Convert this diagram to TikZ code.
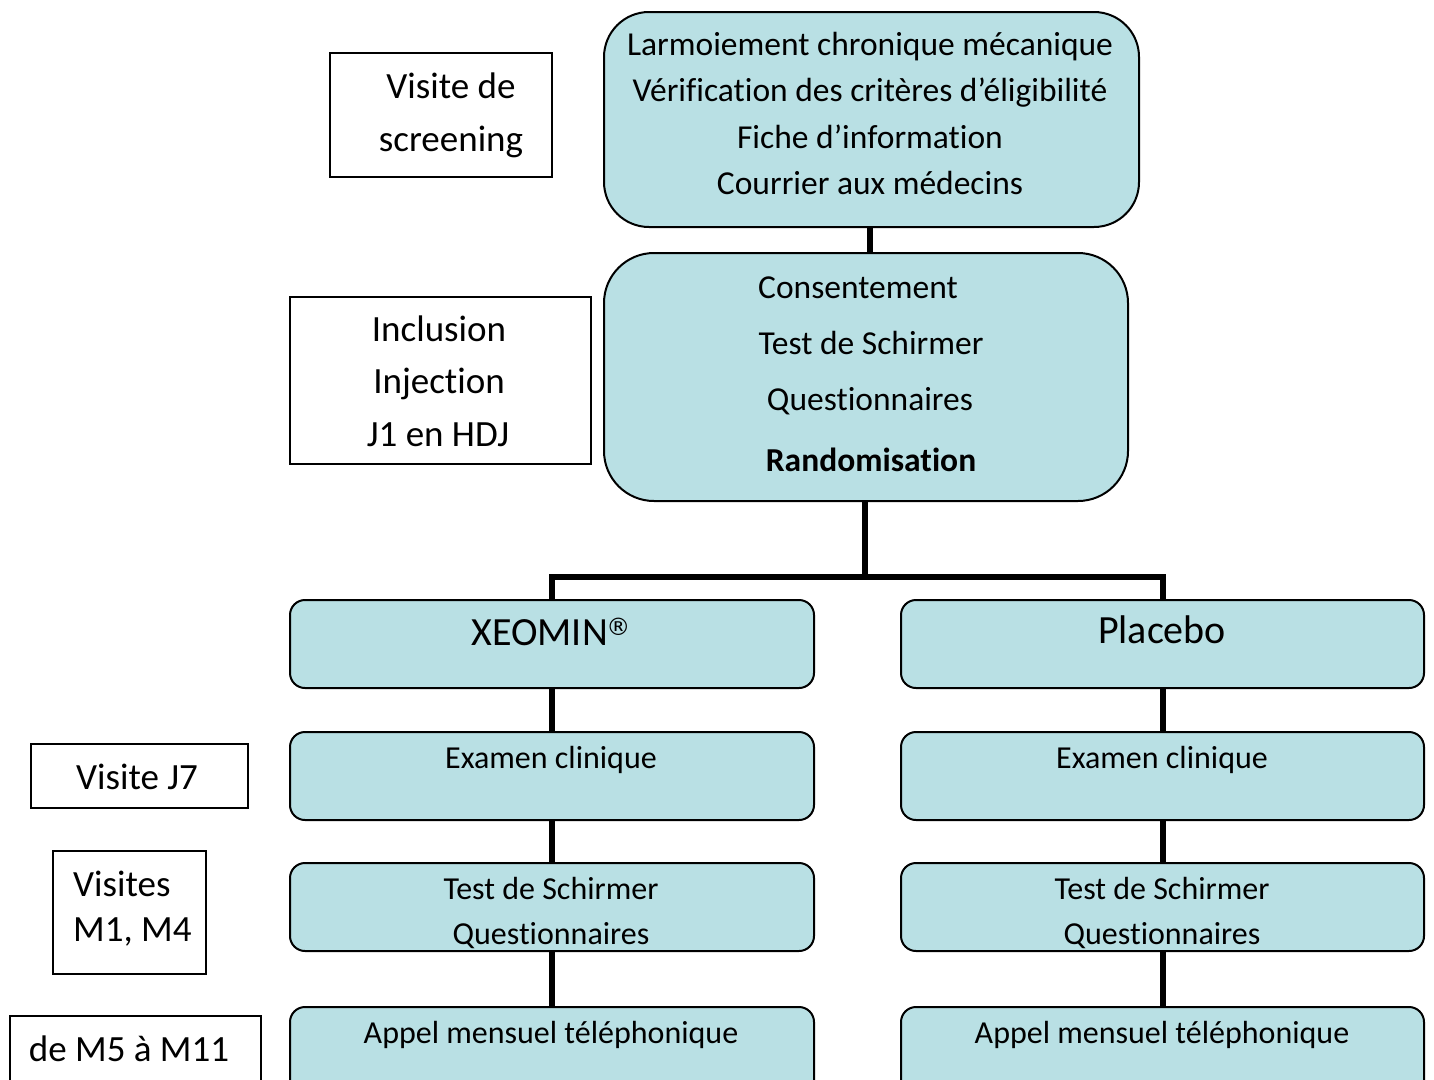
\documentclass[tikz,border=0pt]{standalone}
\usepackage{fontspec}
\setmainfont[Ligatures=NoCommon]{Carlito}
\newfontfamily\symfont{DejaVu Sans}
\definecolor{boxfill}{RGB}{185,224,228}
\begin{document}
\begin{tikzpicture}[x=1pt,y=-1pt,
  rbox/.style={draw=black,line width=2pt,fill=boxfill,rounded corners=#1,inner sep=0pt,anchor=north west,rectangle},
  lbox/.style={draw=black,line width=1.5pt,inner sep=0pt,anchor=north west,rectangle},
  txt/.style={inner sep=0pt,anchor=base,font=\fontsize{33.5}{38}\selectfont},
  btxt/.style={txt,font=\fontsize{40}{44}\selectfont},
  stxt/.style={txt,font=\fontsize{32}{36}\selectfont},
  ltxt/.style={txt,font=\fontsize{37}{42}\selectfont},
  conn/.style={line width=6pt,black}]
\useasboundingbox (0,0) rectangle (1434,1079);
\clip (0,0) rectangle (1434,1079);
% main rounded boxes
\node[rbox=45pt,minimum width=535pt,minimum height=215pt] (scr) at (603,11) {};
\node[rbox=50pt,minimum width=524pt,minimum height=248pt] (inc) at (603,252) {};
\node[rbox=15pt,minimum width=524pt,minimum height=88pt] (xeo) at (289,599) {};
\node[rbox=15pt,minimum width=523pt,minimum height=88pt] (pla) at (900,599) {};
\node[rbox=15pt,minimum width=524pt,minimum height=88pt] (xex) at (289,731) {};
\node[rbox=15pt,minimum width=523pt,minimum height=88pt] (pex) at (900,731) {};
\node[rbox=15pt,minimum width=524pt,minimum height=88pt] (xts) at (289,862) {};
\node[rbox=15pt,minimum width=523pt,minimum height=88pt] (pts) at (900,862) {};
\node[rbox=15pt,minimum width=524pt,minimum height=120pt] (xap) at (289,1006) {};
\node[rbox=15pt,minimum width=523pt,minimum height=120pt] (pap) at (900,1006) {};
% connectors
\draw[conn] (scr.south -| 870,0) -- (inc.north -| 870,0);
\coordinate (split) at (865,577);
\draw[conn] (inc.south -| split) -- (split);
\draw[conn] (xeo.north) -- (xeo.north |- split) -- (pla.north |- split) -- (pla.north);
\draw[conn] (xeo.south) -- (xex.north);
\draw[conn] (xex.south) -- (xts.north);
\draw[conn] (xts.south) -- (xap.north);
\draw[conn] (pla.south) -- (pex.north);
\draw[conn] (pex.south) -- (pts.north);
\draw[conn] (pts.south) -- (pap.north);
% texts in rounded boxes
\node[txt] (s1) at (870,55) {Larmoiement chronique mécanique};
\node[txt] (s2) at (870,101) {Vérification des critères d’éligibilité};
\node[txt] (s3) at (870,148) {Fiche d’information};
\node[txt] (s4) at (870,194) {Courrier aux médecins};
\node[txt] (i1) at (858,298) {Consentement};
\node[txt] (i2) at (871,354) {Test de Schirmer};
\node[txt] (i3) at (870,410) {Questionnaires};
\node[txt] (i4) at (871,471) {\bfseries Randomisation};
\node[btxt] (xeot) at (551,645) {XEOMIN\kern-1.5pt\raisebox{10pt}{\symfont\fontsize{24}{24}\selectfont ®}};
\node[btxt] (plat) at (1162,643) {Placebo};
\node[stxt] (xext) at (551,768) {Examen clinique};
\node[stxt] (pext) at (1162,768) {Examen clinique};
\node[stxt] (xts1) at (551,899) {Test de Schirmer};
\node[stxt] (xts2) at (551,944) {Questionnaires};
\node[stxt] (pts1) at (1162,899) {Test de Schirmer};
\node[stxt] (pts2) at (1162,944) {Questionnaires};
\node[stxt] (xapt) at (551,1043) {Appel mensuel téléphonique};
\node[stxt] (papt) at (1162,1043) {Appel mensuel téléphonique};
% left boxes
\node[lbox,minimum width=222pt,minimum height=124pt] (vs) at (329,52) {};
\node[ltxt] (vs1) at (451,98) {Visite de};
\node[ltxt] (vs2) at (451,151) {screening};
\node[lbox,minimum width=301pt,minimum height=167pt] (vi) at (289,296) {};
\node[ltxt] (vi1) at (439,341) {Inclusion};
\node[ltxt] (vi2) at (439,393) {Injection};
\node[ltxt] (vi3) at (438,446) {J1 en HDJ};
\node[lbox,minimum width=217pt,minimum height=64pt] (vj) at (30,743) {};
\node[ltxt] (vjt) at (137,789) {Visite J7};
\node[lbox,minimum width=153pt,minimum height=123pt] (vm) at (52,850) {};
\node[ltxt,anchor=base west] (vm1) at (73,896) {Visites};
\node[ltxt,anchor=base west] (vm2) at (73,941) {M1, M4};
\node[lbox,minimum width=251pt,minimum height=100pt] (vd) at (9,1015) {};
\node[ltxt] (vdt) at (129,1061) {de M5 à M11};
\end{tikzpicture}
\end{document}
